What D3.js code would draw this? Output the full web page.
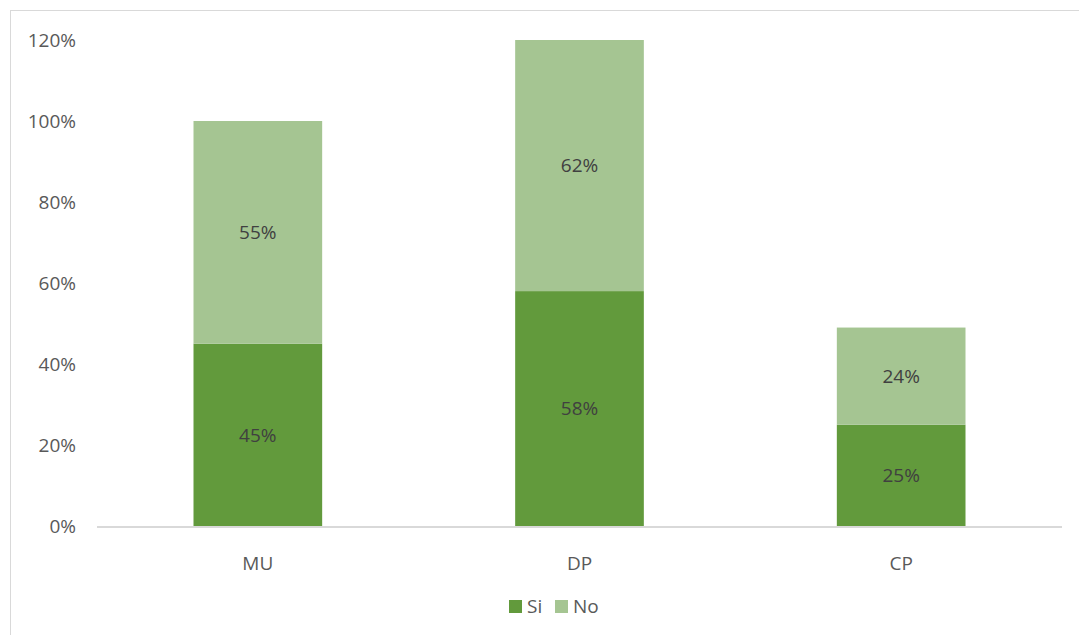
<!DOCTYPE html>
<html>
<head>
<meta charset="utf-8">
<script src="https://cdn.jsdelivr.net/npm/d3@7"></script>
<style>
  html, body { margin: 0; padding: 0; background: #fff; }
  svg { display: block; font-family: "Open Sans", "Noto Sans", sans-serif; }
</style>
</head>
<body>
<svg id="chart" width="1079" height="635"></svg>
<script>
// Stacked bar chart: Si / No share per group
const categories = ["MU", "DP", "CP"];
const siValues = [0.45, 0.58, 0.25];
const noValues = [0.55, 0.62, 0.24];
const seriesNames = ["Si", "No"];
const tickValues = [0, 0.2, 0.4, 0.6, 0.8, 1.0, 1.2];

const colors = { Si: "#629A3C", No: "#A5C592" };

const svg = d3.select("#chart");
const W = 1079, H = 635;

// outer chart frame
svg.append("rect")
  .attr("x", 10.5).attr("y", 10.5)
  .attr("width", W + 20).attr("height", H + 20)
  .attr("fill", "#fff").attr("stroke", "#D9D9D9").attr("stroke-width", 1);

const plot = { left: 97, right: 1062, top: 40, bottom: 526 };

const x = d3.scaleBand()
  .domain(categories)
  .range([plot.left, plot.right])
  .paddingInner(0.6)
  .paddingOuter(0.3);

const y = d3.scaleLinear()
  .domain([0, 1.2])
  .range([plot.bottom, plot.top]);

const rows = categories.map((c, i) => ({ cat: c, Si: siValues[i], No: noValues[i] }));
const stacked = d3.stack().keys(seriesNames)(rows);

// y-axis tick labels
const yAxis = d3.axisLeft(y)
  .tickValues(tickValues)
  .tickFormat(d3.format(".0%"))
  .tickSize(0)
  .tickPadding(0);

const yg = svg.append("g")
  .attr("transform", `translate(${plot.left - 21},0)`)
  .call(yAxis);
yg.select(".domain").remove();
yg.selectAll("text")
  .attr("fill", "#595959")
  .style("font-size", "19px")
  .style("font-family", "'Open Sans', sans-serif");

// bars
const layers = svg.append("g").selectAll("g")
  .data(stacked)
  .join("g")
  .attr("fill", d => colors[d.key]);

layers.selectAll("rect")
  .data(d => d.map(v => ({ key: d.key, v })))
  .join("rect")
  .attr("x", d => x(d.v.data.cat))
  .attr("width", x.bandwidth())
  .attr("y", d => y(d.v[1]))
  .attr("height", d => y(d.v[0]) - y(d.v[1]));

// value labels
layers.selectAll("text")
  .data(d => d.map(v => ({ key: d.key, v })))
  .join("text")
  .attr("x", d => x(d.v.data.cat) + x.bandwidth() / 2)
  .attr("y", d => (y(d.v[0]) + y(d.v[1])) / 2)
  .attr("text-anchor", "middle")
  .attr("dy", "0.35em")
  .attr("fill", "#404040")
  .style("font-size", "19px")
  .text(d => d3.format(".0%")(d.v.data[d.key]));

// x axis
const xAxis = d3.axisBottom(x).tickSize(0).tickPadding(0);
const xg = svg.append("g")
  .attr("transform", `translate(0,${plot.bottom})`)
  .call(xAxis);
xg.select(".domain")
  .attr("stroke", "#D9D9D9")
  .attr("stroke-width", 2)
  .attr("d", `M${plot.left},1H${plot.right}`);
xg.selectAll("text")
  .attr("y", 31)
  .attr("fill", "#595959")
  .style("font-size", "19px")
  .style("font-family", "'Open Sans', sans-serif");

// legend
const legend = svg.append("g").attr("transform", "translate(509,600)");
const legendItems = legend.selectAll("g")
  .data(seriesNames)
  .join("g")
  .attr("transform", (d, i) => `translate(${i * 46},0)`);
legendItems.append("rect")
  .attr("width", 13).attr("height", 13)
  .attr("fill", d => colors[d]);
legendItems.append("text")
  .attr("x", 18).attr("y", 6.5)
  .attr("dy", "0.35em")
  .attr("fill", "#595959")
  .style("font-size", "19px")
  .text(d => d);
</script>
</body>
</html>
